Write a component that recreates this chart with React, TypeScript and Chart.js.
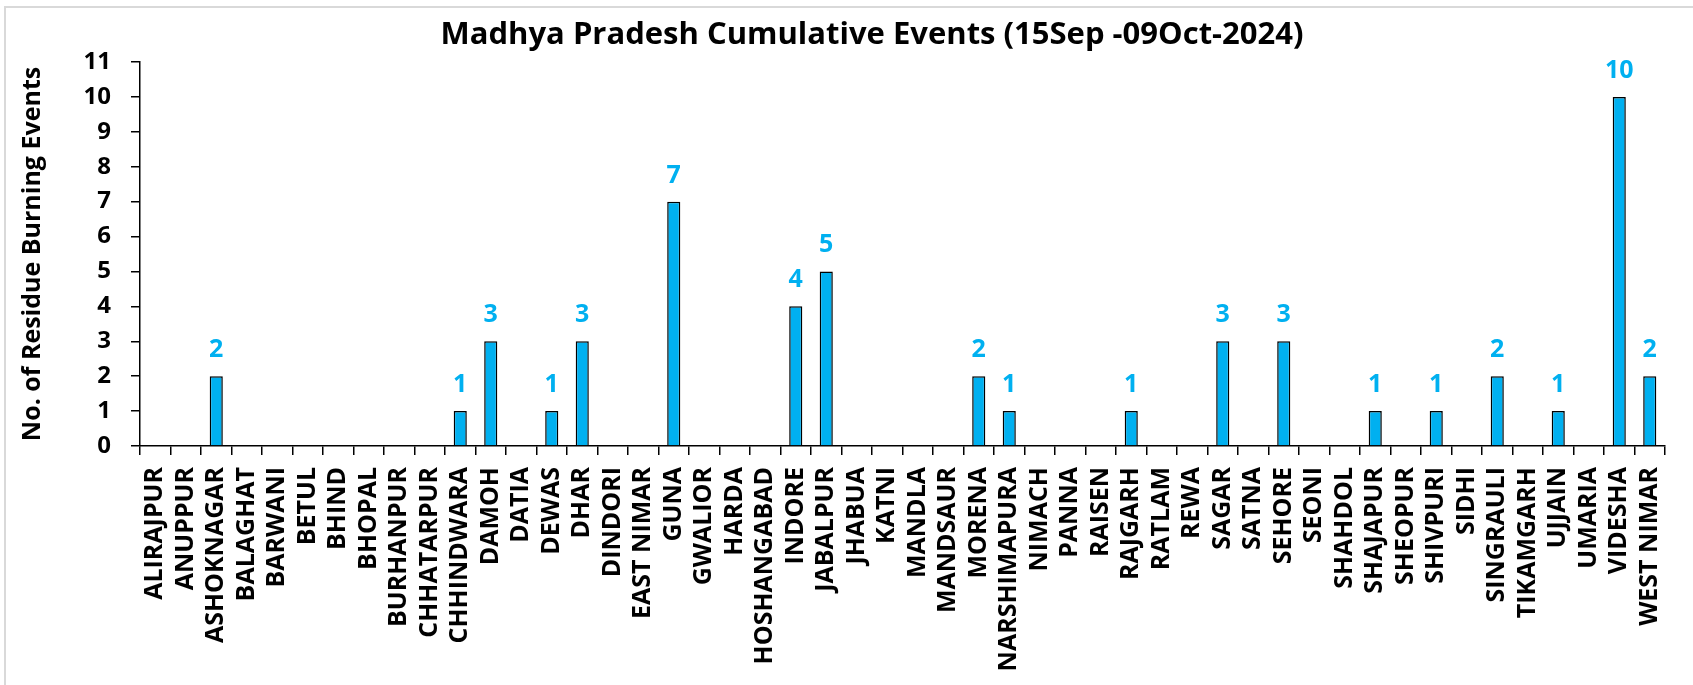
import React, { useEffect, useRef } from "react";
import { Chart, registerables } from "chart.js";

Chart.register(...registerables);

const districts: string[] = [
  "ALIRAJPUR", "ANUPPUR", "ASHOKNAGAR", "BALAGHAT", "BARWANI", "BETUL", "BHIND", "BHOPAL",
  "BURHANPUR", "CHHATARPUR", "CHHINDWARA", "DAMOH", "DATIA", "DEWAS", "DHAR", "DINDORI",
  "EAST NIMAR", "GUNA", "GWALIOR", "HARDA", "HOSHANGABAD", "INDORE", "JABALPUR", "JHABUA",
  "KATNI", "MANDLA", "MANDSAUR", "MORENA", "NARSHIMAPURA", "NIMACH", "PANNA", "RAISEN",
  "RAJGARH", "RATLAM", "REWA", "SAGAR", "SATNA", "SEHORE", "SEONI", "SHAHDOL",
  "SHAJAPUR", "SHEOPUR", "SHIVPURI", "SIDHI", "SINGRAULI", "TIKAMGARH", "UJJAIN", "UMARIA",
  "VIDESHA", "WEST NIMAR",
];

const events: number[] = [
  0, 0, 2, 0, 0, 0, 0, 0,
  0, 0, 1, 3, 0, 1, 3, 0,
  0, 7, 0, 0, 0, 4, 5, 0,
  0, 0, 0, 2, 1, 0, 0, 0,
  1, 0, 0, 3, 0, 3, 0, 0,
  1, 0, 1, 0, 2, 0, 1, 0,
  10, 2,
];

const titleText = "Madhya Pradesh Cumulative Events (15Sep -09Oct-2024)";
const yAxisTitle = "No. of Residue Burning Events";
const FONT = "'Open Sans', 'DejaVu Sans', sans-serif";
const BAR_COLOR = "#00B0F0";

const titlePlugin = {
  id: "customTitle",
  afterDraw(chart: any) {
    const ctx = chart.ctx;
    ctx.save();
    ctx.font = `bold 31px ${FONT}`;
    ctx.fillStyle = "#000";
    ctx.textAlign = "center";
    ctx.textBaseline = "middle";
    ctx.fillText(titleText, 872, 35);
    ctx.restore();
  },
};

const labelPlugin = {
  id: "valueLabels",
  afterDatasetsDraw(chart: any) {
    const ctx = chart.ctx;
    const meta = chart.getDatasetMeta(0);
    const data = chart.data.datasets[0].data as number[];
    ctx.save();
    ctx.font = `bold 25px ${FONT}`;
    ctx.fillStyle = BAR_COLOR;
    ctx.textAlign = "center";
    ctx.textBaseline = "alphabetic";
    meta.data.forEach((bar: any, i: number) => {
      const v = data[i];
      if (v > 0) ctx.fillText(String(v), bar.x, bar.y - 19);
    });
    ctx.restore();
  },
};

export default function App() {
  const canvasRef = useRef<HTMLCanvasElement | null>(null);

  useEffect(() => {
    document.body.style.margin = "0";
    const canvas = canvasRef.current;
    if (!canvas) return;
    const chart = new Chart(canvas, {
      type: "bar",
      data: {
        labels: districts,
        datasets: [
          {
            data: events,
            backgroundColor: BAR_COLOR,
            borderColor: "#000000",
            borderWidth: 1.5,
            barPercentage: 0.43,
            categoryPercentage: 1,
          },
        ],
      },
      options: {
        animation: false,
        responsive: false,
        maintainAspectRatio: false,
        layout: { padding: { top: 62, right: 28, bottom: 0, left: 0 } },
        plugins: {
          legend: { display: false },
          title: { display: false },
          tooltip: { enabled: false },
        },
        scales: {
          x: {
            afterFit: (s: any) => {
              s.height = 239;
            },
            border: { color: "#000", width: 1.5 },
            grid: {
              display: true,
              drawOnChartArea: false,
              drawTicks: true,
              tickLength: 9,
              color: "#000",
              lineWidth: 1.5,
              offset: true,
            },
            ticks: {
              autoSkip: false,
              maxRotation: 90,
              minRotation: 90,
              padding: 12,
              color: "#000",
              font: { family: FONT, size: 25, weight: "bold" },
            },
          },
          y: {
            min: 0,
            max: 11,
            afterFit: (s: any) => {
              s.width = 140;
            },
            border: { color: "#000", width: 1.5 },
            grid: {
              display: true,
              drawOnChartArea: false,
              drawTicks: true,
              tickLength: 9,
              color: "#000",
              lineWidth: 1.5,
            },
            ticks: {
              stepSize: 1,
              padding: 20,
              color: "#000",
              font: { family: FONT, size: 24, weight: "bold" },
            },
            title: {
              display: true,
              text: yAxisTitle,
              color: "#000",
              padding: { top: 18, bottom: 0 },
              font: { family: FONT, size: 25, weight: "bold" },
            },
          },
        },
      },
      plugins: [titlePlugin, labelPlugin],
    });
    return () => chart.destroy();
  }, []);

  return (
    <div style={{ position: "relative", width: 1693, height: 685, background: "#fff" }}>
      <div
        style={{
          position: "absolute",
          left: 4,
          top: 6,
          right: 0,
          bottom: 0,
          borderTop: "2px solid #d9d9d9",
          borderLeft: "2px solid #d9d9d9",
          pointerEvents: "none",
        }}
      />
      <canvas ref={canvasRef} width={1693} height={685} style={{ display: "block" }} />
    </div>
  );
}
